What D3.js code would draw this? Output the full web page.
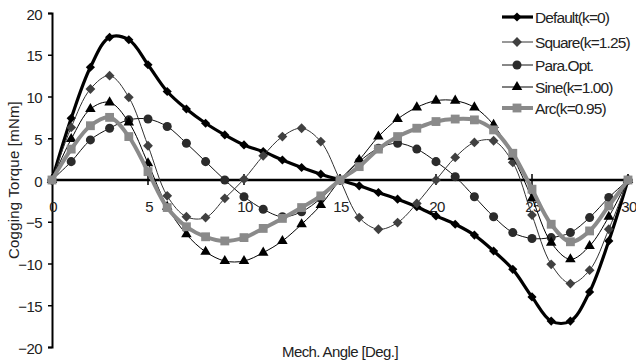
<!DOCTYPE html>
<html><head><meta charset="utf-8">
<script src="https://cdn.jsdelivr.net/npm/d3@7"></script>
<style>
body{margin:0;background:#fff;}
text{font-family:"Liberation Sans",Arial,sans-serif;fill:#222;}
</style></head>
<body><svg id="c" width="636" height="361"></svg>
<script>
const angles = d3.range(0, 31);
const defaultK0 = [0,7.4,13.5,17.1,16.8,13.8,10.6,8.5,6.8,5.4,4.2,3.4,2.4,1.5,0.7,0,-0.7,-1.5,-2.3,-3.2,-4.3,-5.3,-6.6,-8.5,-10.7,-14.0,-16.9,-16.9,-13.4,-7.3,0];
const squareK125 = [0,6.3,10.9,12.5,9.9,4.1,-1.9,-4.4,-4.5,-2.2,0.1,2.9,5.2,6.2,4.6,0,-4.5,-5.9,-5.1,-2.8,0,2.7,4.5,4.7,2.1,-4.2,-10.1,-12.4,-10.8,-5.9,0];
const paraOpt = [0,2.2,4.8,6.2,7.2,7.3,6.4,4.4,2.2,0,-2.0,-3.5,-4.4,-3.8,-2.2,0,2.2,3.8,4.4,3.7,2.2,0.4,-2.0,-4.4,-6.3,-7.0,-6.9,-6.3,-4.5,-2.1,0];
const sineK100 = [0,4.9,8.5,9.3,6.9,2.0,-3.2,-6.5,-8.6,-9.7,-9.7,-8.7,-7.3,-5.3,-3.0,0,2.4,5.2,7.3,8.7,9.5,9.5,8.7,6.6,2.8,-2.2,-7.5,-9.5,-7.9,-4.4,0];
const arcK095 = [0,3.7,6.5,7.5,5.2,1.0,-3.3,-5.6,-6.8,-7.3,-6.9,-5.8,-4.6,-3.3,-1.9,0,1.6,3.7,5.2,6.2,7.0,7.3,7.2,6.0,3.2,-1.1,-5.3,-7.4,-6.1,-3.1,0];
const seriesNames = ["Default(k=0)","Square(k=1.25)","Para.Opt.","Sine(k=1.00)","Arc(k=0.95)"];
const xTicks = [0,5,10,15,20,25,30];
const yTicks = [20,15,10,5,0,-5,-10,-15,-20];

const styles = [
  {vals:defaultK0, stroke:"#000", sw:3.2, sym:"diamond", fill:"#000", size:42},
  {vals:squareK125, stroke:"#333", sw:1, sym:"diamond", fill:"#404040", size:48},
  {vals:paraOpt, stroke:"#111", sw:1, sym:"circle", fill:"#2b2b2b", size:64},
  {vals:sineK100, stroke:"#000", sw:1, sym:"triangle", fill:"#000", size:48},
  {vals:arcK095, stroke:"#8a8a8a", sw:4, sym:"square", fill:"#8a8a8a", size:78}
];

const svg = d3.select("#c");
const x = d3.scaleLinear().domain([0,30]).range([52,628]);
const y = d3.scaleLinear().domain([-20,20]).range([347,13]);

function symPath(s, size){
  if (s==="diamond") return d3.symbol().type(d3.symbolSquare).size(size)();
  const t = {circle:d3.symbolCircle, triangle:d3.symbolTriangle, square:d3.symbolSquare}[s];
  return d3.symbol().type(t).size(size)();
}
function symTransform(s, px, py){
  return s==="diamond" ? `translate(${px},${py}) rotate(45)` : `translate(${px},${py})`;
}

// y axis
const yAxis = d3.axisLeft(y).tickValues(yTicks).tickSize(4).tickPadding(6)
  .tickFormat(d => d<0 ? "\u2212"+Math.abs(d) : d);
const gy = svg.append("g").attr("transform","translate(52,0)").call(yAxis);
gy.select(".domain").attr("stroke","#000").attr("stroke-width",2);
gy.selectAll(".tick line").attr("stroke","#000").attr("stroke-width",1.5);
gy.selectAll(".tick text").style("font-size","15px").style("letter-spacing","-0.6px")
  .attr("fill","#222").attr("dy","0.4em");

// x axis (zero line)
const gx = svg.append("g").attr("transform",`translate(0,${y(0)})`);
gx.append("line").attr("x1",x(0)).attr("x2",x(30)).attr("stroke","#000").attr("stroke-width",2.5);
gx.selectAll("line.tk").data(xTicks).join("line").attr("class","tk")
  .attr("x1",d=>x(d)).attr("x2",d=>x(d)).attr("y1",-6).attr("y2",5)
  .attr("stroke","#000").attr("stroke-width",1.5);
gx.selectAll("text").data(xTicks).join("text")
  .attr("x",d=>x(d)+1).attr("y",32).attr("text-anchor","middle")
  .style("font-size","15px").style("letter-spacing","-0.6px").text(d=>d);

// series
const line = d3.line().x((d,i)=>x(angles[i])).y(d=>y(d)).curve(d3.curveCatmullRom.alpha(0.5));
styles.forEach(st=>{
  const g = svg.append("g");
  g.append("path").datum(st.vals).attr("d",line).attr("fill","none")
    .attr("stroke",st.stroke).attr("stroke-width",st.sw).attr("stroke-linejoin","round");
  g.selectAll("path.m").data(st.vals).join("path").attr("class","m")
    .attr("d",symPath(st.sym, st.size))
    .attr("transform",(d,i)=>symTransform(st.sym, x(angles[i]), y(d)))
    .attr("fill",st.fill);
});

// legend
const leg = svg.append("g");
const legY = [17,42,65,87,108];
styles.forEach((st,i)=>{
  const g = leg.append("g").attr("transform",`translate(0,${legY[i]})`);
  g.append("line").attr("x1",502).attr("x2",533).attr("y1",0).attr("y2",0)
    .attr("stroke",st.stroke).attr("stroke-width",st.sw);
  g.append("path").attr("d",symPath(st.sym, st.size)).attr("transform",symTransform(st.sym,517,0)).attr("fill",st.fill);
  g.append("text").attr("x",535).attr("y",5.5).style("font-size","15.5px")
    .style("letter-spacing","-0.9px").text(seriesNames[i]);
});

// axis titles
svg.append("text").attr("transform","translate(19,180) rotate(-90)").attr("text-anchor","middle")
  .style("font-size","15px").style("letter-spacing","0.2px").text("Cogging Torque [mNm]");
svg.append("text").attr("x",340).attr("y",357).attr("text-anchor","middle")
  .style("font-size","15px").style("letter-spacing","-0.6px").text("Mech. Angle [Deg.]");
</script></body></html>
